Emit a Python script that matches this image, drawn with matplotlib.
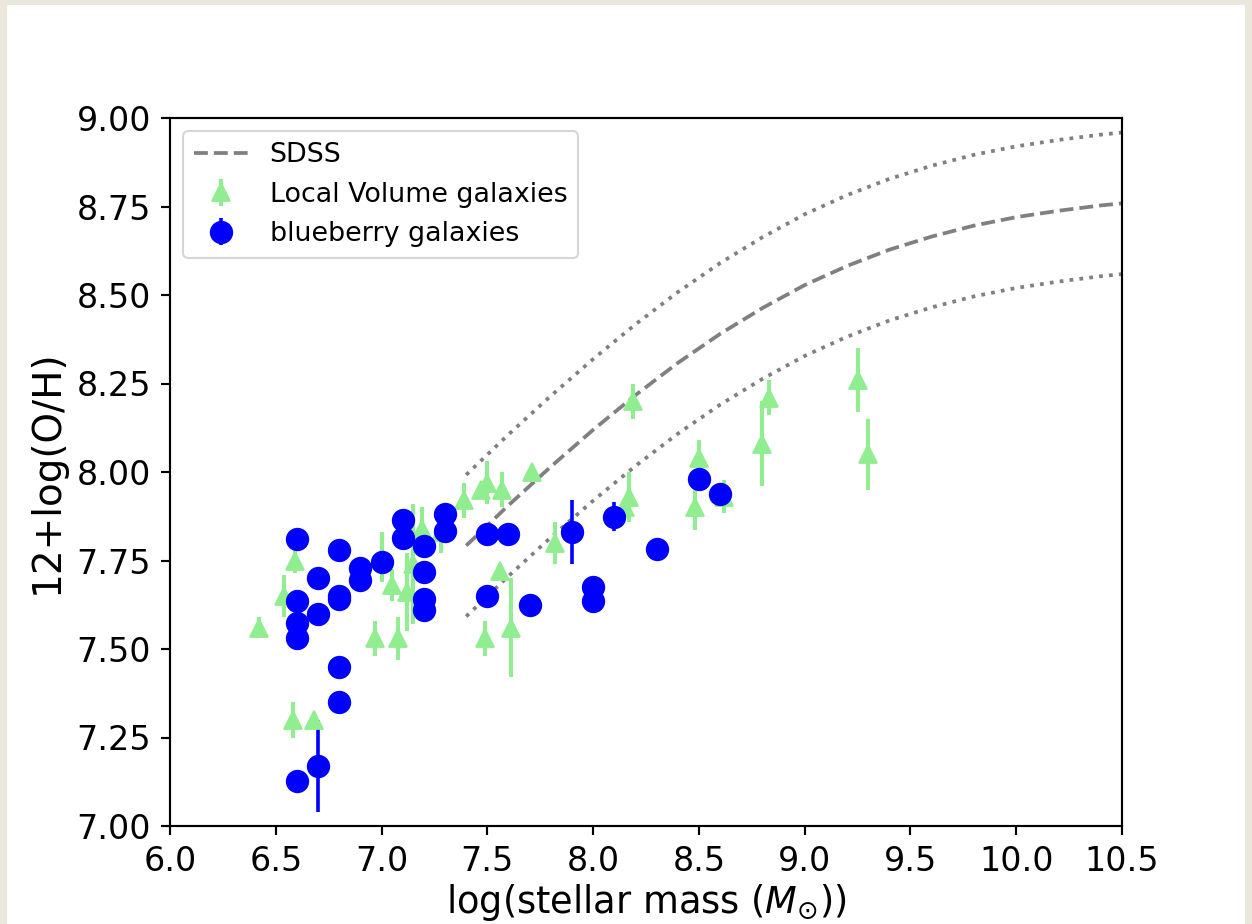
import matplotlib
matplotlib.use("Agg")
import matplotlib.pyplot as plt
from matplotlib.patches import Rectangle

# ---- SDSS mass-metallicity relation ----
sdss_x = [7.4, 7.6, 7.8, 8.0, 8.2, 8.4, 8.6, 8.8, 9.0, 9.2, 9.4, 9.6, 9.8, 10.0, 10.2, 10.4, 10.5]
sdss_y = [7.792, 7.906, 8.015, 8.119, 8.217, 8.308, 8.390, 8.463, 8.528, 8.582, 8.628,
          8.665, 8.696, 8.720, 8.738, 8.753, 8.759]
sdss_upper = [7.992, 8.106, 8.215, 8.319, 8.417, 8.508, 8.590, 8.663, 8.728, 8.782, 8.828,
              8.865, 8.896, 8.920, 8.938, 8.953, 8.959]
sdss_lower = [7.592, 7.706, 7.815, 7.919, 8.017, 8.108, 8.190, 8.263, 8.328, 8.382, 8.428,
              8.465, 8.496, 8.520, 8.538, 8.553, 8.559]

# ---- Local Volume galaxies ----
lv_mass = [6.42, 6.54, 6.59, 6.58, 6.68, 6.97, 7.00, 7.05, 7.08, 7.12, 7.15, 7.19, 7.28,
           7.39, 7.47, 7.50, 7.57, 7.71, 7.49, 7.56, 7.61, 7.82, 8.17, 8.15, 8.19,
           8.50, 8.48, 8.62, 8.80, 8.83, 9.25, 9.30]
lv_oh = [7.56, 7.65, 7.75, 7.30, 7.30, 7.53, 7.76, 7.68, 7.53, 7.66, 7.74, 7.84, 7.83,
         7.92, 7.95, 7.97, 7.95, 8.00, 7.53, 7.72, 7.56, 7.80, 7.93, 7.90, 8.20,
         8.04, 7.90, 7.93, 8.08, 8.21, 8.26, 8.05]
lv_err = [0.03, 0.06, 0.035, 0.05, 0.02, 0.05, 0.07, 0.045, 0.06, 0.11, 0.17, 0.06, 0.06,
          0.05, 0.02, 0.06, 0.05, 0.02, 0.05, 0.02, 0.14, 0.06, 0.07, 0.02, 0.05,
          0.05, 0.065, 0.047, 0.12, 0.05, 0.09, 0.10]

# ---- blueberry galaxies ----
bb_mass = [6.6, 6.6, 6.6, 6.6, 6.6, 6.7, 6.7, 6.7, 6.8, 6.8, 6.8, 6.8, 6.8,
           6.9, 6.9, 7.0, 7.1, 7.1, 7.2, 7.2, 7.2, 7.2, 7.3, 7.3,
           7.5, 7.6, 7.5, 7.7, 7.9, 8.0, 8.0, 8.1, 8.3, 8.5, 8.6]
bb_oh = [7.81, 7.636, 7.574, 7.53, 7.127, 7.70, 7.60, 7.17, 7.78, 7.65, 7.64, 7.45, 7.35,
         7.73, 7.695, 7.745, 7.865, 7.814, 7.79, 7.717, 7.64, 7.61, 7.88, 7.833,
         7.825, 7.825, 7.65, 7.623, 7.83, 7.676, 7.636, 7.874, 7.782, 7.98, 7.937]
bb_err = [0.02, 0.02, 0.02, 0.02, 0.02, 0.02, 0.02, 0.13, 0.02, 0.02, 0.02, 0.02, 0.02,
          0.02, 0.02, 0.02, 0.02, 0.02, 0.02, 0.02, 0.02, 0.02, 0.02, 0.02,
          0.02, 0.02, 0.02, 0.02, 0.09, 0.02, 0.02, 0.04, 0.02, 0.02, 0.02]

xticks = [6.0, 6.5, 7.0, 7.5, 8.0, 8.5, 9.0, 9.5, 10.0, 10.5]
yticks = [7.00, 7.25, 7.50, 7.75, 8.00, 8.25, 8.50, 8.75, 9.00]

plt.rcParams['font.family'] = ['DejaVu Sans']
plt.rcParams['xtick.major.size'] = 6.8
plt.rcParams['ytick.major.size'] = 6.8
plt.rcParams['xtick.major.width'] = 1.55
plt.rcParams['ytick.major.width'] = 1.55
plt.rcParams['xtick.major.pad'] = 6.8
plt.rcParams['ytick.major.pad'] = 6.8
plt.rcParams['axes.linewidth'] = 1.55

fig = plt.figure(figsize=(12.52, 9.24), dpi=100, facecolor='#EBE7DC')
bg = Rectangle((7 / 1252, 0), (1245 - 7) / 1252, 1 - 5 / 924,
               transform=fig.transFigure, facecolor='white', edgecolor='none', zorder=-10)
fig.add_artist(bg)
ax = fig.add_axes([170 / 1252, 1 - 826 / 924, (1122 - 170) / 1252, (826 - 118) / 924])
ax.set_zorder(1)

ax.plot(sdss_x, sdss_y, linestyle='--', color='gray', lw=2.7, label='SDSS')
ax.plot(sdss_x, sdss_upper, linestyle=':', color='gray', lw=2.7)
ax.plot(sdss_x, sdss_lower, linestyle=':', color='gray', lw=2.7)

ax.errorbar(lv_mass, lv_oh, yerr=lv_err, fmt='^', color='lightgreen', ms=12.5, mew=1.3,
            elinewidth=2.9, capsize=0, label='Local Volume galaxies')
ax.errorbar(bb_mass, bb_oh, yerr=bb_err, fmt='o', color='blue', ms=15.5, mew=1.3,
            elinewidth=2.6, capsize=0, label='blueberry galaxies')

ax.set_xlim(6.0, 10.5)
ax.set_ylim(7.0, 9.0)
ax.set_xticks(xticks)
ax.set_xticklabels([f"{t:.1f}" for t in xticks])
ax.set_yticks(yticks)
ax.set_yticklabels([f"{t:.2f}" for t in yticks])
ax.tick_params(labelsize=24)
ax.set_xlabel(r'log(stellar mass ($M_{\odot}$))', fontsize=26.5, labelpad=3)
ax.set_ylabel('12+log(O/H)', fontsize=28, labelpad=8)

leg = ax.legend(loc='upper left', fontsize=19.4, borderaxespad=0.5)
leg.get_frame().set_linewidth(1.5)

fig.savefig('out.png', dpi=100, facecolor=fig.get_facecolor())
